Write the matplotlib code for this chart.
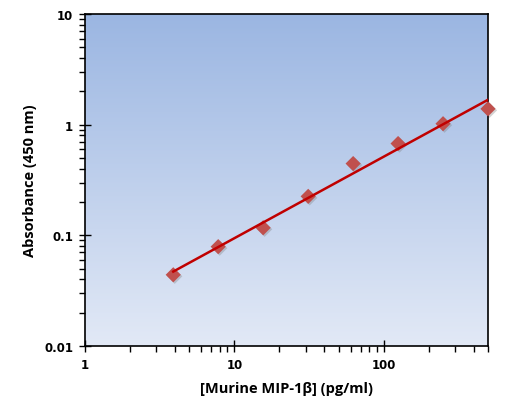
import matplotlib.pyplot as plt
import numpy as np

# standard curve readings
conc = [3.9, 7.8, 15.6, 31.25, 62.5, 125, 250, 500]
absorb = [0.044, 0.079, 0.117, 0.225, 0.445, 0.675, 1.02, 1.39]

x_label = '[Murine MIP-1\u03b2] (pg/ml)'
y_label = 'Absorbance (450 nm)'

fig = plt.figure(figsize=(5.2, 4.14), dpi=100)
ax = fig.add_axes([85/520, 1-347/414, 403/520, 332/414])

# blue gradient background
grad = np.linspace(0, 1, 256).reshape(-1, 1)
top = np.array([155, 182, 226]) / 255
bot = np.array([226, 233, 246]) / 255
img = top + (bot - top) * grad[:, :, None]
ax.imshow(img, extent=[0, 1, 0, 1], transform=ax.transAxes, aspect='auto', zorder=0)

# power trendline (fit in log space)
lx = np.log10(conc)
ly = np.log10(absorb)
k, b = np.polyfit(lx, ly, 1)
xf = np.logspace(lx[0], lx[-1], 100)
yf = 10 ** (k * np.log10(xf) + b)

shadow = ax.transData + plt.matplotlib.transforms.ScaledTranslation(1.5/100, -1.5/100, fig.dpi_scale_trans)
ax.scatter(conc, absorb, marker='D', s=60, color='#7f7f7f', alpha=0.35,
           edgecolors='none', zorder=2, clip_on=False, transform=shadow)
ax.scatter(conc, absorb, marker='D', s=60, color='#c0504d', edgecolors='none',
           zorder=3, clip_on=False)
ax.plot(xf, yf, color='#c00000', lw=1.8, zorder=4)

ax.set_xscale('log')
ax.set_yscale('log')
ax.set_xlim(1, 500)
ax.set_ylim(0.01, 10)
ax.set_xticks([1, 10, 100])
ax.set_xticklabels(['1', '10', '100'])
ax.set_yticks([0.01, 0.1, 1, 10])
ax.set_yticklabels(['0.01', '0.1', '1', '10'])

ax.tick_params(which='major', direction='inout', length=9, width=1, color='black',
               labelsize=8.5, pad=4)
ax.tick_params(which='minor', direction='out', length=4.5, width=1, color='black')
for lab in ax.get_xticklabels() + ax.get_yticklabels():
    lab.set_fontweight('bold')
    lab.set_family('DejaVu Sans')
for s in ax.spines.values():
    s.set_linewidth(1.2)
    s.set_color('black')

ax.set_xlabel(x_label, fontsize=10.5, fontweight='bold', family='Open Sans', labelpad=7)
ax.set_ylabel(y_label, fontsize=10.5, fontweight='bold', family='Open Sans', labelpad=5)

plt.savefig('out.png', dpi=100)
